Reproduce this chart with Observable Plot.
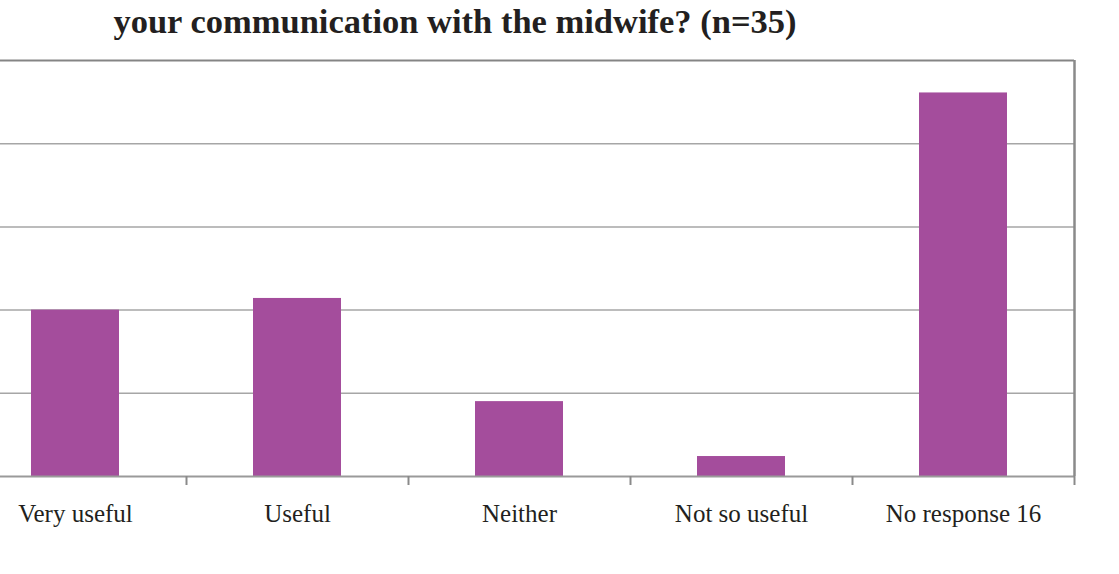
<!DOCTYPE html>
<html><head><meta charset="utf-8">
<script src="https://cdn.jsdelivr.net/npm/d3@7"></script>
<script src="https://cdn.jsdelivr.net/npm/@observablehq/plot@0.6"></script>
<style>
html,body{margin:0;padding:0;background:#fff;overflow:hidden;width:1119px;height:574px;}
#title{position:absolute;left:0;top:3px;width:910px;text-align:center;font-family:"Liberation Serif",serif;font-weight:bold;font-size:34.5px;line-height:1.1;color:#231f20;white-space:nowrap;}
#chart{position:absolute;left:-36px;top:0;}
</style></head><body>
<div id="title">your communication with the midwife? (n=35)</div>
<div id="chart"></div>
<script>
const categories = ["Very useful", "Useful", "Neither", "Not so useful", "No response 16"];
const values = [20, 21.4, 9, 2.4, 46.1];
const gridValues = [10, 20, 30, 40];
const yMax = 50;

const data = categories.map((c, i) => ({category: c, value: values[i]}));
const font = '"Liberation Serif", serif';

const plot = Plot.plot({
  width: 1155,
  height: 574,
  marginLeft: 0,
  marginRight: 45,
  marginTop: 60,
  marginBottom: 98,
  style: {background: "transparent", overflow: "visible"},
  x: {domain: categories, paddingInner: 0.605, paddingOuter: 0.3025, label: null, axis: null},
  y: {domain: [0, yMax], label: null, axis: null},
  marks: [
    Plot.ruleY(gridValues, {stroke: "#a6a6a6", strokeWidth: 1.5}),
    Plot.barY(data, {x: "category", y: "value", fill: "#a44d9c"}),
    Plot.ruleY([0], {stroke: "#9a9a9a", strokeWidth: 2}),
    Plot.ruleY([yMax], {stroke: "#858585", strokeWidth: 2}),
    Plot.ruleX([categories[categories.length - 1]], {dx: 111, stroke: "#8a8a8a", strokeWidth: 2.5}),
    Plot.axisX({tickSize: 0, tickPadding: 28, fontSize: 25, fontFamily: font, fill: "#231f20"}),
    Plot.axisX({tickSize: 9, text: null, dx: 111, stroke: "#8a8a8a", strokeWidth: 2})
  ]
});
document.getElementById("chart").appendChild(plot);
</script>
</body></html>
